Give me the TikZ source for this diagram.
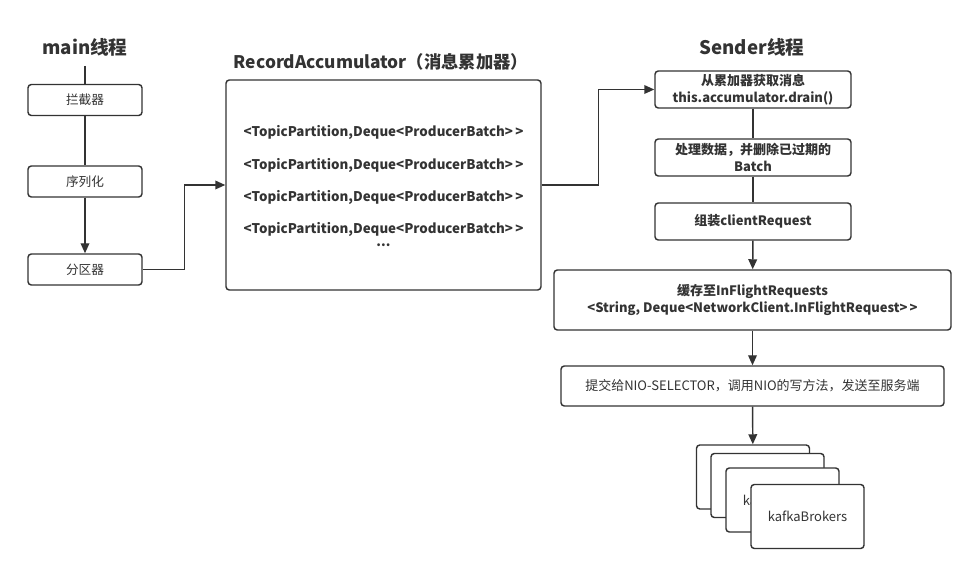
\documentclass[tikz,border=0pt]{standalone}
\usepackage{fontspec}
\setmainfont{Noto Sans CJK SC}
\usetikzlibrary{arrows.meta}
\definecolor{linegray}{HTML}{333333}
\definecolor{textgray}{HTML}{333333}

\begin{document}
\begin{tikzpicture}[x=0.75pt,y=-0.75pt,
    box/.style={draw=linegray, line width=1.1pt, rounded corners=2.5pt, fill=white,
      align=center, inner sep=0pt, text=textgray, font=\fontsize{9.5}{12}\selectfont},
    boldbox/.style={box, font=\fontsize{9.75}{12.5}\bfseries\selectfont},
    brokerbox/.style={box, font=\fontsize{9.75}{12}\selectfont, minimum width=84.75pt, minimum height=48pt},
    flow/.style={draw=linegray, line width=1.1pt},
    arr/.style={flow, -{Triangle[length=7.5pt,width=6.5pt]}},
    title/.style={text=textgray, font=\fontsize{14}{16}\bfseries\selectfont}]
    \path[fill=white] (0,0) rectangle (976,573);
    \useasboundingbox (0,0) rectangle (976,573);
    % main thread
    \node[title] (mainT) at (85,47) {main线程};
    \coordinate (mainTop) at (85,66);
    \node[box, minimum width=85.5pt, minimum height=23.25pt] (inter) at (85,100) {拦截器};
    \node[box, minimum width=85.5pt, minimum height=23.25pt] (serial) at (85,181.5) {序列化};
    \node[box, minimum width=85.5pt, minimum height=23.25pt] (part) at (85,269.5) {分区器};
    \draw[flow] (mainTop) -- (inter);
    \draw[flow] (inter) -- (serial);
    \draw[arr] (serial) -- (part);
    % accumulator
    \node[title, font=\fontsize{13}{16}\bfseries\selectfont] (accT) at (381,62) {RecordAccumulator（消息累加器）};
    \node[box, minimum width=236.25pt, minimum height=157.5pt] (acc) at (383.5,185) {};
    \foreach \y [count=\i] in {132,165,197,229}
        \node[text=textgray, font=\fontsize{10}{12}\bfseries\selectfont] (entry\i) at (383.5,\y)
            {<TopicPartition,Deque<ProducerBatch>\,>};
    \node[text=textgray, font=\fontsize{10}{12}\bfseries\selectfont] (dots) at (383.5,245) {...};
    \draw[arr] (part.east) -- ++(42,0) |- (acc.west);
    % sender thread
    \node[title] (sendT) at (752,47) {Sender线程};
    \node[boldbox, minimum width=147pt, minimum height=27.75pt] (drain) at (753,89.5)
        {从累加器获取消息\\this.accumulator.drain()};
    \node[boldbox, minimum width=147pt, minimum height=27.75pt] (expire) at (753,157.5)
        {处理数据，并删除已过期的\\Batch};
    \node[boldbox, minimum width=147pt, minimum height=27.75pt] (request) at (753,221.5)
        {组装clientRequest};
    \node[boldbox, minimum width=297.75pt, minimum height=45pt] (inflight) at (752.5,300)
        {缓存至InFlightRequests\\<String, Deque<NetworkClient.InFlightRequest>\,>};
    \node[box, font=\fontsize{9.75}{12}\selectfont, minimum width=287.25pt, minimum height=30pt] (selector) at (752.5,386)
        {提交给NIO-SELECTOR，调用NIO的写方法，发送至服务端};
    \draw[arr] (acc.east) -- ++(57,0) |- (drain.west);
    \draw[flow] (drain) -- (expire);
    \draw[flow] (expire) -- (request);
    \draw[arr] (request) -- (inflight);
    \draw[arr] (inflight) -- (selector);
    % brokers
    \node[brokerbox] (broker1) at (753,477) {};
    \node[brokerbox] (broker2) at (767.5,485.5) {};
    \node[brokerbox] (broker3) at (782.5,500) {kafkaBrokers};
    \node[brokerbox] (broker4) at (807.5,516.5) {kafkaBrokers};
    \draw[arr] (selector) -- (broker1);
\end{tikzpicture}
\end{document}
